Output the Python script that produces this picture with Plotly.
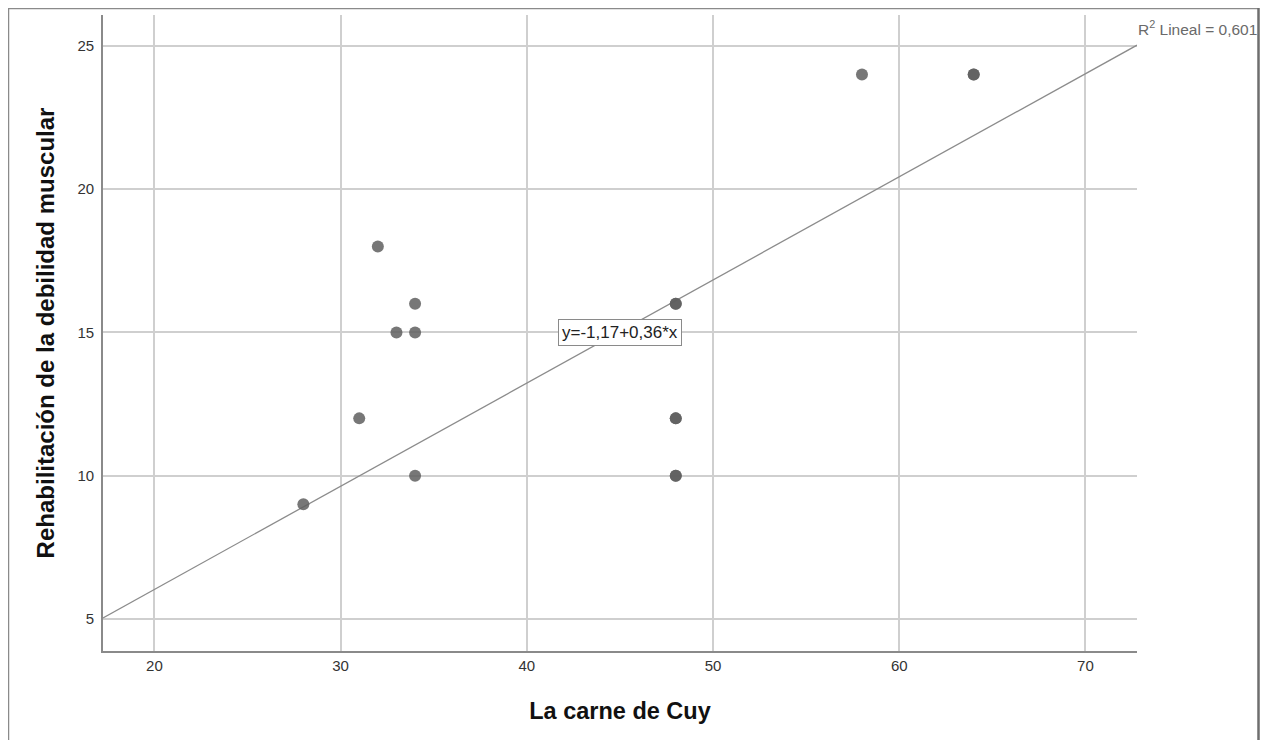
import plotly.graph_objects as go

# Data
carne_cuy = [28, 31, 32, 33, 34, 34, 34, 48, 48, 48, 48, 48, 48, 58, 64, 64]
rehabilitacion = [9, 12, 18, 15, 16, 15, 10, 16, 16, 12, 12, 10, 10, 24, 24, 24]
intercept = -1.17
slope = 0.36
r2_text = "R<sup>2</sup> Lineal = 0,601"
eq_text = "y=-1,17+0,36*x"

x_range = [17.24, 72.77]
y_range = [3.88, 26.08]

# page adds an 8px body margin; figure coordinates are screen minus 8
OFF = 8
W, H = 1261, 732
L, R, T, B = 95, 132, 7, 89
pw, ph = W - L - R, H - T - B

def px(x):
    return (x - OFF - L) / pw

def py(y):
    return (H - B - (y - OFF)) / ph

FONT = "Liberation Sans, Arial"

fig = go.Figure()

fit_x = x_range
fit_y = [intercept + slope * v for v in fit_x]
fig.add_trace(go.Scatter(
    x=fit_x, y=fit_y, mode="lines",
    line=dict(color="#8c8c8c", width=1.3),
    hoverinfo="skip", showlegend=False))

fig.add_trace(go.Scatter(
    x=carne_cuy, y=rehabilitacion, mode="markers",
    marker=dict(color="rgba(95,95,95,0.85)", size=12, line=dict(width=0)),
    showlegend=False))

axis_common = dict(
    showgrid=True, gridcolor="#cfcfcf", gridwidth=1.6,
    showline=True, linecolor="#8a8a8a", linewidth=1.6,
    zeroline=False, ticks="", mirror=False,
    tickfont=dict(family=FONT, size=15, color="#333333"),
)

fig.update_layout(
    width=W, height=H,
    margin=dict(l=L, r=R, t=T, b=B),
    paper_bgcolor="white", plot_bgcolor="white",
    xaxis=dict(range=x_range, tickvals=[20, 30, 40, 50, 60, 70],
               title=dict(text="<b>La carne de Cuy</b>", standoff=30,
                          font=dict(family=FONT, size=23.5, color="#111111")),
               **axis_common),
    yaxis=dict(range=y_range, tickvals=[5, 10, 15, 20, 25], ticklabelstandoff=4,
               title=dict(text="<b>Rehabilitación de la debilidad muscular</b>", standoff=16,
                          font=dict(family=FONT, size=24, color="#111111")),
               **axis_common),
    showlegend=False,
)

# Equation label box
fig.add_annotation(
    x=45.0, y=15, xref="x", yref="y", text=eq_text, showarrow=False,
    font=dict(family=FONT, size=17, color="#222222"),
    bgcolor="white", bordercolor="#8a8a8a", borderwidth=1, borderpad=3)

# R2 label at the right end of the fit line
fig.add_annotation(
    x=px(1136), y=py(28), xref="paper", yref="paper", text=r2_text,
    showarrow=False, xanchor="left", yanchor="middle",
    font=dict(family=FONT, size=15.5, color="#6a6a6a"))

# Outer frame
fig.add_shape(type="line", xref="paper", yref="paper",
              x0=px(8.5), x1=px(8.5), y0=py(7), y1=py(745),
              line=dict(color="#8a8a8a", width=1.5))
fig.add_shape(type="line", xref="paper", yref="paper",
              x0=px(8), x1=px(1259), y0=py(8.5), y1=py(8.5),
              line=dict(color="#8a8a8a", width=1.5))
fig.add_shape(type="line", xref="paper", yref="paper",
              x0=px(1258.5), x1=px(1258.5), y0=py(7), y1=py(745),
              line=dict(color="#6e6e6e", width=2.5))

fig.write_html("out.html")
